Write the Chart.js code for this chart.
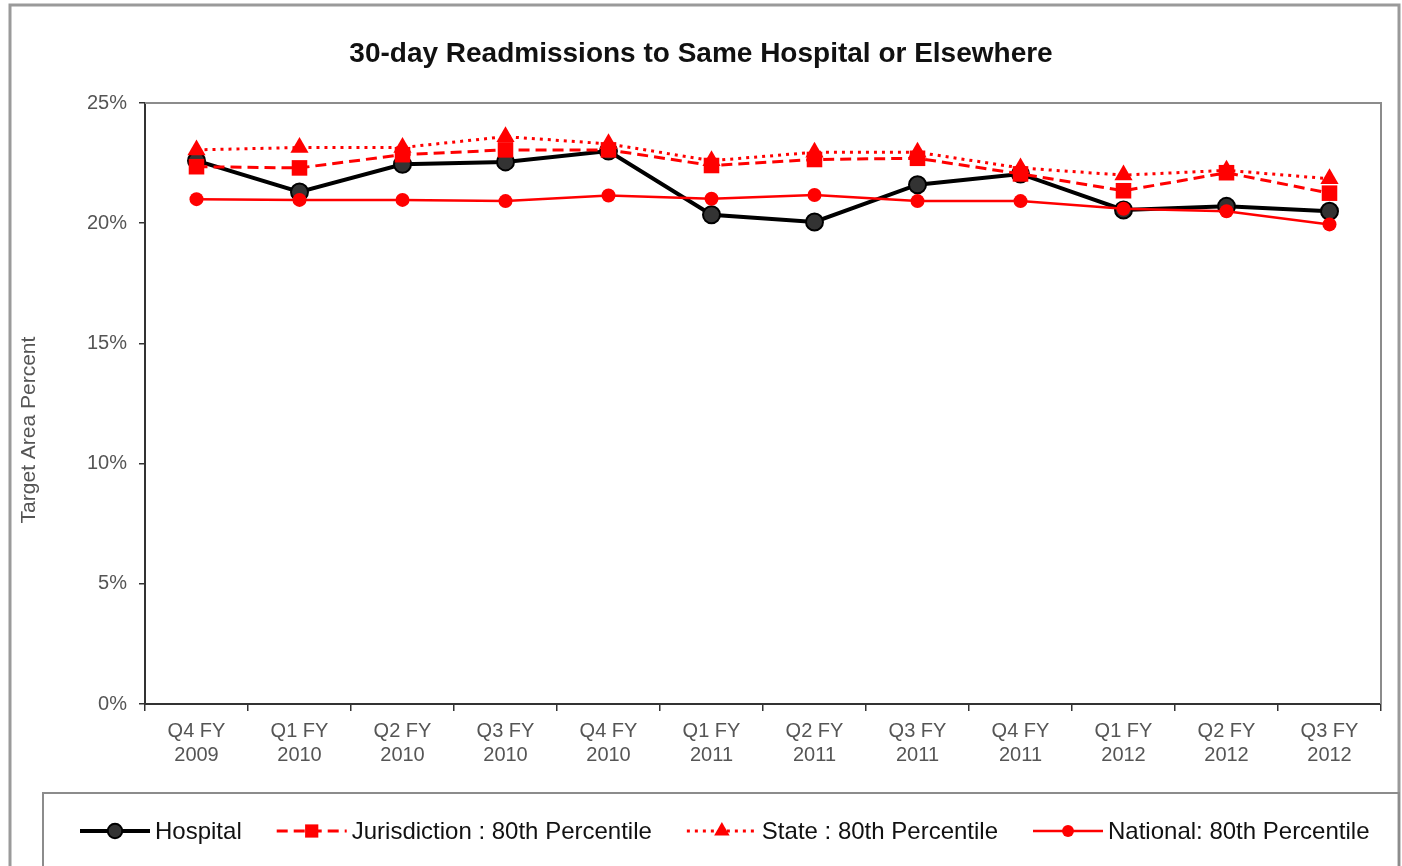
<!DOCTYPE html>
<html>
<head>
<meta charset="utf-8">
<title>30-day Readmissions</title>
<script src="https://cdn.jsdelivr.net/npm/chart.js@4/dist/chart.umd.min.js"></script>
<style>
  html, body { margin: 0; padding: 0; background: #fff; }
  #wrap { width: 1402px; height: 866px; position: relative; }
</style>
</head>
<body>
<div id="wrap"><canvas id="chart" width="1402" height="866"></canvas></div>
<script>
// Quarter labels (two lines each)
const categories = [
  ['Q4 FY', '2009'], ['Q1 FY', '2010'], ['Q2 FY', '2010'], ['Q3 FY', '2010'],
  ['Q4 FY', '2010'], ['Q1 FY', '2011'], ['Q2 FY', '2011'], ['Q3 FY', '2011'],
  ['Q4 FY', '2011'], ['Q1 FY', '2012'], ['Q2 FY', '2012'], ['Q3 FY', '2012']
];

// Percent values
const hospital     = [22.6, 21.3, 22.45, 22.55, 23.0, 20.35, 20.05, 21.6, 22.05, 20.55, 20.7, 20.5];
const jurisdiction = [22.35, 22.3, 22.85, 23.05, 23.05, 22.4, 22.65, 22.7, 22.05, 21.35, 22.1, 21.25];
const state        = [23.05, 23.15, 23.15, 23.6, 23.3, 22.6, 22.95, 22.95, 22.3, 22.0, 22.2, 21.85];
const national     = [21.0, 20.97, 20.97, 20.92, 21.15, 21.02, 21.17, 20.92, 20.92, 20.6, 20.5, 19.95];

const yTickValues = [0, 5, 10, 15, 20, 25];

const FONT = '"Liberation Sans", Arial, sans-serif';
const RED = '#ff0000';

const datasets = [
  {
    label: 'Hospital',
    data: hospital,
    borderColor: '#000',
    borderWidth: 4,
    pointStyle: 'circle',
    pointRadius: 8.5,
    pointBackgroundColor: '#333',
    pointBorderColor: '#000',
    pointBorderWidth: 2,
    order: 4
  },
  {
    label: 'Jurisdiction : 80th Percentile',
    data: jurisdiction,
    borderColor: RED,
    borderWidth: 3,
    borderDash: [11, 6],
    pointStyle: 'rect',
    pointRadius: 11,
    pointBackgroundColor: RED,
    pointBorderColor: RED,
    pointBorderWidth: 0,
    order: 3
  },
  {
    label: 'State : 80th Percentile',
    data: state,
    borderColor: RED,
    borderWidth: 3,
    borderDash: [3, 5],
    pointStyle: 'triangle',
    pointRadius: 10.5,
    pointBackgroundColor: RED,
    pointBorderColor: RED,
    pointBorderWidth: 0,
    order: 2
  },
  {
    label: 'National: 80th Percentile',
    data: national,
    borderColor: RED,
    borderWidth: 2.5,
    pointStyle: 'circle',
    pointRadius: 7,
    pointBackgroundColor: RED,
    pointBorderColor: RED,
    pointBorderWidth: 0,
    order: 1
  }
];

// Frame around the whole figure, top/right edges of the plot box, y axis title.
const framePlugin = {
  id: 'frame',
  beforeDraw(chart) {
    const ctx = chart.ctx;
    ctx.save();
    ctx.fillStyle = '#fff';
    ctx.fillRect(0, 0, chart.width, chart.height);
    ctx.strokeStyle = '#9a9a9a';
    ctx.lineWidth = 3;
    ctx.strokeRect(10, 5, 1389, 900);

    // y axis title sits a bit below the plot's middle in the original
    ctx.translate(29, 430);
    ctx.rotate(-Math.PI / 2);
    ctx.font = '21px ' + FONT;
    ctx.fillStyle = '#555';
    ctx.textAlign = 'center';
    ctx.textBaseline = 'middle';
    ctx.fillText('Target Area Percent', 0, 0);
    ctx.restore();
  },
  beforeDatasetsDraw(chart) {
    const a = chart.chartArea;
    const ctx = chart.ctx;
    ctx.save();
    ctx.strokeStyle = '#8c8c8c';
    ctx.lineWidth = 2;
    ctx.beginPath();
    ctx.moveTo(a.left, a.top);
    ctx.lineTo(a.right, a.top);
    ctx.lineTo(a.right, a.bottom);
    ctx.stroke();
    ctx.restore();
  }
};

// Legend drawn in a box below the plot, sample = line with marker in middle.
const boxLegendPlugin = {
  id: 'boxLegend',
  afterDraw(chart) {
    const ctx = chart.ctx;
    ctx.save();
    ctx.strokeStyle = '#8c8c8c';
    ctx.lineWidth = 2;
    ctx.strokeRect(43, 793, 1356, 120);

    const y = 831;
    let x = 80;
    ctx.font = '24px ' + FONT;
    ctx.textBaseline = 'middle';
    chart.data.datasets.forEach((ds) => {
      ctx.save();
      ctx.strokeStyle = ds.borderColor;
      ctx.lineWidth = ds.borderWidth;
      ctx.setLineDash(ds.borderDash || []);
      ctx.beginPath();
      ctx.moveTo(x, y);
      ctx.lineTo(x + 70, y);
      ctx.stroke();
      ctx.setLineDash([]);
      ctx.fillStyle = ds.pointBackgroundColor;
      ctx.strokeStyle = ds.pointBorderColor;
      ctx.lineWidth = ds.pointBorderWidth;
      Chart.helpers.drawPoint(ctx, {
        pointStyle: ds.pointStyle,
        radius: ds.pointRadius * 0.85,
        rotation: 0,
        borderWidth: ds.pointBorderWidth
      }, x + 35, y);
      ctx.restore();
      ctx.fillStyle = '#111';
      ctx.fillText(ds.label, x + 75, y + 1);
      x += 75 + ctx.measureText(ds.label).width + 35;
    });
    ctx.restore();
  }
};

new Chart(document.getElementById('chart'), {
  type: 'line',
  data: { labels: categories, datasets: datasets },
  options: {
    responsive: false,
    animation: false,
    layout: { padding: { left: 21, right: 21, top: 0, bottom: 102 } },
    plugins: {
      legend: { display: false },
      tooltip: { enabled: false },
      title: {
        display: true,
        text: '30-day Readmissions to Same Hospital or Elsewhere',
        color: '#111',
        font: { family: FONT, size: 28, weight: 'bold' },
        padding: { top: 37, bottom: 32.4 }
      }
    },
    elements: { line: { tension: 0 } },
    scales: {
      x: {
        offset: true,
        grid: { offset: true, drawOnChartArea: false, drawTicks: true, tickLength: 7, color: '#333', lineWidth: 1.5 },
        border: { color: '#333', width: 2 },
        ticks: { color: '#555', font: { family: FONT, size: 20 }, padding: 8, maxRotation: 0, autoSkip: false },
        afterFit(scale) { scale.height = 60; }
      },
      y: {
        min: 0,
        max: 25,
        afterBuildTicks(scale) { scale.ticks = yTickValues.map(v => ({ value: v })); },
        grid: { drawOnChartArea: false, drawTicks: true, tickLength: 6, color: '#333', lineWidth: 1.5 },
        border: { color: '#333', width: 2 },
        ticks: { color: '#555', font: { family: FONT, size: 20 }, padding: 12, callback: v => v + '%' },
        afterFit(scale) { scale.width = 124; }
      }
    }
  },
  plugins: [framePlugin, boxLegendPlugin]
});
</script>
</body>
</html>
